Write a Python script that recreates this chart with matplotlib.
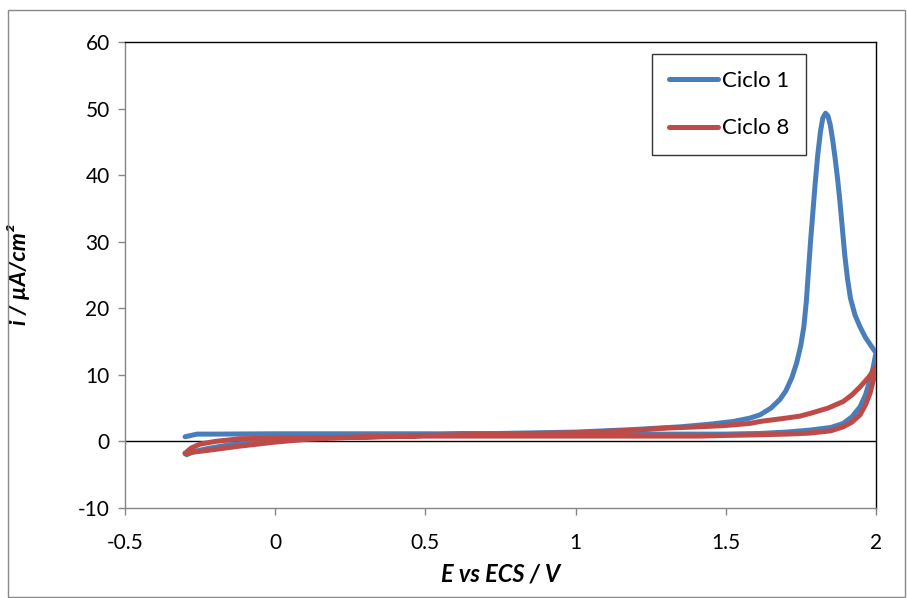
import matplotlib
matplotlib.use("Agg")
import matplotlib.pyplot as plt
from matplotlib.patches import Rectangle

plt.rcParams['font.family'] = ['Lato', 'DejaVu Sans']
plt.rcParams['axes.unicode_minus'] = False

# Ciclo 1: barrido directo y de vuelta (E en V, i en uA/cm2)
e_ciclo1 = [-0.295, -0.27, -0.217, -0.15, -0.1, 0.0, 0.1, 0.25, 0.5, 0.75, 1.0, 1.2,
            1.35, 1.45, 1.525, 1.58, 1.614, 1.65, 1.68, 1.70, 1.72, 1.736, 1.75,
            1.76, 1.768, 1.775, 1.782, 1.79, 1.798, 1.806, 1.815, 1.823, 1.832,
            1.84, 1.848, 1.856, 1.864, 1.872, 1.88, 1.888, 1.896, 1.905, 1.915,
            1.93, 1.947, 1.965, 1.98, 2.0,
            1.99, 1.98, 1.965, 1.947, 1.92, 1.891, 1.85, 1.78, 1.7, 1.614, 1.5,
            1.2, 1.0, 0.5, 0.0, -0.2, -0.26, -0.28, -0.3]
i_ciclo1 = [-2.0, -1.5, -1.0, -0.5, -0.2, 0.3, 0.6, 0.8, 1.0, 1.2, 1.4, 1.8,
            2.2, 2.6, 3.0, 3.5, 4.0, 5.0, 6.3, 7.6, 9.6, 11.8, 14.5,
            17.3, 21.0, 25.5, 30.0, 34.5, 39.0, 43.0, 46.5, 48.6, 49.3,
            48.9, 47.5, 45.2, 42.5, 39.5, 36.0, 32.0, 28.0, 24.5, 21.5,
            19.0, 17.2, 15.6, 14.6, 13.3,
            11.0, 9.2, 7.0, 5.2, 3.7, 2.7, 2.1, 1.7, 1.4, 1.2, 1.1,
            1.1, 1.1, 1.15, 1.15, 1.1, 1.1, 0.9, 0.7]

# Ciclo 8
e_ciclo8 = [-0.30, -0.27, -0.217, -0.117, 0.0, 0.1, 0.25, 0.5, 0.75, 1.0, 1.2, 1.3,
            1.414, 1.5, 1.58, 1.614, 1.70, 1.747, 1.78, 1.84, 1.891, 1.92, 1.947,
            1.975, 2.0,
            1.99, 1.98, 1.965, 1.947, 1.92, 1.891, 1.85, 1.78, 1.7, 1.614, 1.5,
            1.414, 1.2, 1.0, 0.5, 0.2, 0.0, -0.117, -0.2, -0.25, -0.28, -0.3]
i_ciclo8 = [-1.8, -1.6, -1.3, -0.7, -0.1, 0.3, 0.6, 0.9, 1.1, 1.3, 1.7, 2.0,
            2.2, 2.4, 2.7, 3.0, 3.5, 3.8, 4.2, 5.0, 6.0, 7.0, 8.2,
            9.6, 11.2,
            9.0, 7.2, 5.5, 4.0, 2.9, 2.2, 1.6, 1.25, 1.1, 1.0, 0.9,
            0.8, 0.8, 0.8, 0.8, 0.6, 0.5, 0.4, 0.0, -0.4, -1.0, -1.8]

x_ticks = [-0.5, 0, 0.5, 1, 1.5, 2]
x_tick_labels = ['-0.5', '0', '0.5', '1', '1.5', '2']
y_ticks = [-10, 0, 10, 20, 30, 40, 50, 60]

W, H = 907, 598
fig = plt.figure(figsize=(W / 100, H / 100), dpi=100)
ax = fig.add_axes([125 / W, 1 - 508 / H, (876 - 125) / W, (508 - 42) / H])

ax.plot(e_ciclo1, i_ciclo1, color='#4a7ebb', lw=3.6, label='Ciclo 1',
        solid_capstyle='round', solid_joinstyle='round', zorder=3)
ax.plot(e_ciclo8, i_ciclo8, color='#be4b48', lw=3.6, label='Ciclo 8',
        solid_capstyle='round', solid_joinstyle='round', zorder=4)

ax.axhline(0, color='black', lw=1, zorder=2)

ax.set_xlim(-0.5, 2)
ax.set_ylim(-10, 60)
ax.set_xticks(x_ticks)
ax.set_xticklabels(x_tick_labels)
ax.set_yticks(y_ticks)
ax.tick_params(axis='both', direction='out', length=5, width=1, color='#868686',
               labelsize=15, labelcolor='black')
ax.tick_params(axis='x', pad=13)
ax.tick_params(axis='y', pad=6)

ax.spines['left'].set_color('#868686')
ax.spines['bottom'].set_color('#868686')
ax.spines['top'].set_color('black')
ax.spines['right'].set_color('black')
for s in ax.spines.values():
    s.set_linewidth(1)

ax.set_xlabel('E vs ECS / V', fontsize=17, fontweight='bold', style='italic')
ax.xaxis.set_label_coords(0.5, -0.116)
ax.set_ylabel('i / µA/cm²', fontsize=16.5, fontweight='bold', style='italic')
ax.yaxis.set_label_coords(-0.127, 0.5)

leg = ax.legend(loc='upper left', bbox_to_anchor=(652 / W, 1 - 54 / H),
                bbox_transform=fig.transFigure, fontsize=16, frameon=True,
                fancybox=False, edgecolor='black', handlelength=2.2,
                handletextpad=0.2, labelspacing=1.25, borderpad=0.75,
                borderaxespad=0)
leg.get_frame().set_linewidth(1)

# borde del area del grafico
fig.patches.append(Rectangle((8 / W, 1 - 597 / H), (905 - 8) / W, (597 - 10) / H,
                             transform=fig.transFigure, fill=False,
                             edgecolor='#898989', lw=1))

fig.savefig('out.png', dpi=100)
